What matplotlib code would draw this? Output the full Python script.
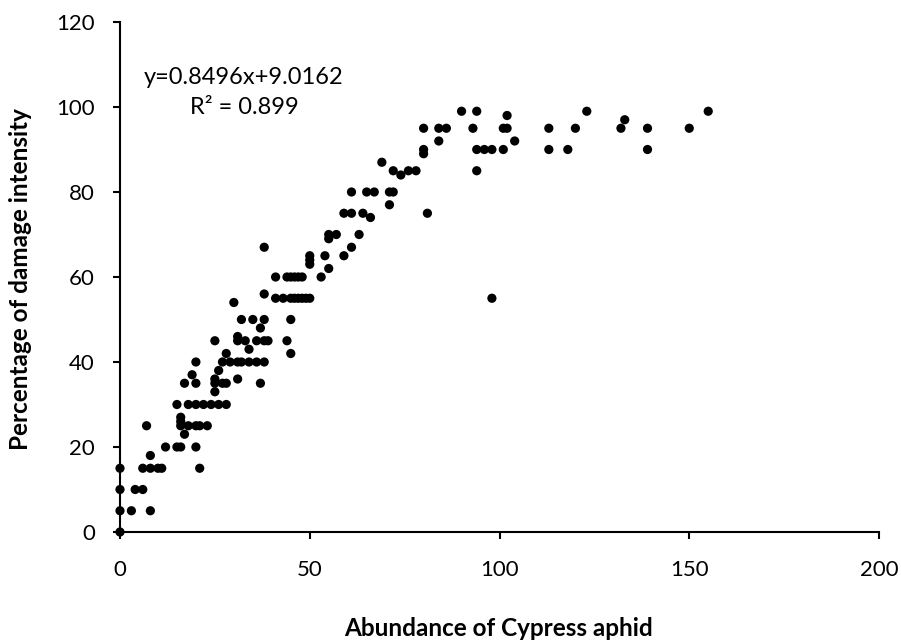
import matplotlib
matplotlib.use("Agg")
import matplotlib.pyplot as plt

plt.rcParams["font.family"] = ["Lato", "DejaVu Sans"]

# aphid counts per sample and the matching damage intensity (%)
abundance = [
    0, 0, 0, 0, 3, 8, 4, 6, 6, 8, 10, 11, 21, 8, 7,
    12, 15, 16, 20, 17, 16, 16, 16, 18, 20, 21, 23,
    15, 18, 20, 22, 24, 26, 28, 17, 20, 19, 20,
    25, 25, 25, 27, 28, 31, 37, 26, 27, 29, 31, 32, 34, 36, 38,
    28, 34, 25, 31, 31, 33, 36, 38, 39, 44, 45, 37,
    32, 35, 38, 45, 30, 38,
    41, 43, 45, 46, 47, 48, 49, 50,
    41, 44, 45, 46, 47, 48, 38,
    50, 50, 50, 53, 54, 55, 55, 55, 57, 59, 61, 63,
    59, 61, 64, 66, 61, 65, 67, 71, 72, 71,
    69, 72, 74, 76, 78, 80, 80, 80, 84, 84, 86,
    90, 94, 93, 94, 96, 98, 101, 94, 101, 102, 102, 104,
    113, 113, 118, 120, 123, 132, 133, 139, 139, 150, 155,
    81, 98,
]
damage = [
    0, 5, 10, 15, 5, 5, 10, 10, 15, 15, 15, 15, 15, 18, 25,
    20, 20, 20, 20, 23, 27, 26, 25, 25, 25, 25, 25,
    30, 30, 30, 30, 30, 30, 30, 35, 35, 37, 40,
    33, 35, 36, 35, 35, 36, 35, 38, 40, 40, 40, 40, 40, 40, 40,
    42, 43, 45, 46, 45, 45, 45, 45, 45, 45, 42, 48,
    50, 50, 50, 50, 54, 56,
    55, 55, 55, 55, 55, 55, 55, 55,
    60, 60, 60, 60, 60, 60, 67,
    63, 64, 65, 60, 65, 62, 69, 70, 70, 65, 67, 70,
    75, 75, 75, 74, 80, 80, 80, 80, 80, 77,
    87, 85, 84, 85, 85, 89, 90, 95, 92, 95, 95,
    99, 99, 95, 90, 90, 90, 90, 85, 95, 95, 98, 92,
    95, 90, 90, 95, 99, 95, 97, 95, 90, 95, 99,
    75, 55,
]

x_ticks = [0, 50, 100, 150, 200]
y_ticks = [0, 20, 40, 60, 80, 100, 120]

W, H = 901, 640
fig = plt.figure(figsize=(W / 100, H / 100), dpi=100)
ax = fig.add_axes([120 / W, 1 - 532 / H, 759 / W, 510 / H])

ax.scatter(abundance, damage, s=44, color="black", edgecolors="none",
           zorder=3, clip_on=False)

ax.set_xlim(0, 200)
ax.set_ylim(0, 120)
ax.set_xticks(x_ticks)
ax.set_yticks(y_ticks)

for side in ("top", "right"):
    ax.spines[side].set_visible(False)
for side in ("left", "bottom"):
    ax.spines[side].set_linewidth(1.5)

ax.tick_params(axis="both", direction="out", length=5, width=1.5,
               labelsize=16, colors="black")
ax.tick_params(axis="x", pad=15)
ax.tick_params(axis="y", pad=13)

# axis titles placed in figure pixels
fig.text(499 / W, 1 - 636 / H, "Abundance of Cypress aphid",
         ha="center", va="baseline", fontsize=17.5, fontweight="bold")
fig.text(21 / W, 1 - 279 / H, "Percentage of damage intensity",
         ha="center", va="center", rotation=90, fontsize=17.5,
         fontweight="bold")

# regression annotation
fig.text(244 / W, 1 - 78 / H, "y=0.8496x+9.0162",
         ha="center", va="center", fontsize=17)
fig.text(244 / W, 1 - 108 / H, "R² = 0.899",
         ha="center", va="center", fontsize=17)

fig.savefig("out.png", dpi=100)
